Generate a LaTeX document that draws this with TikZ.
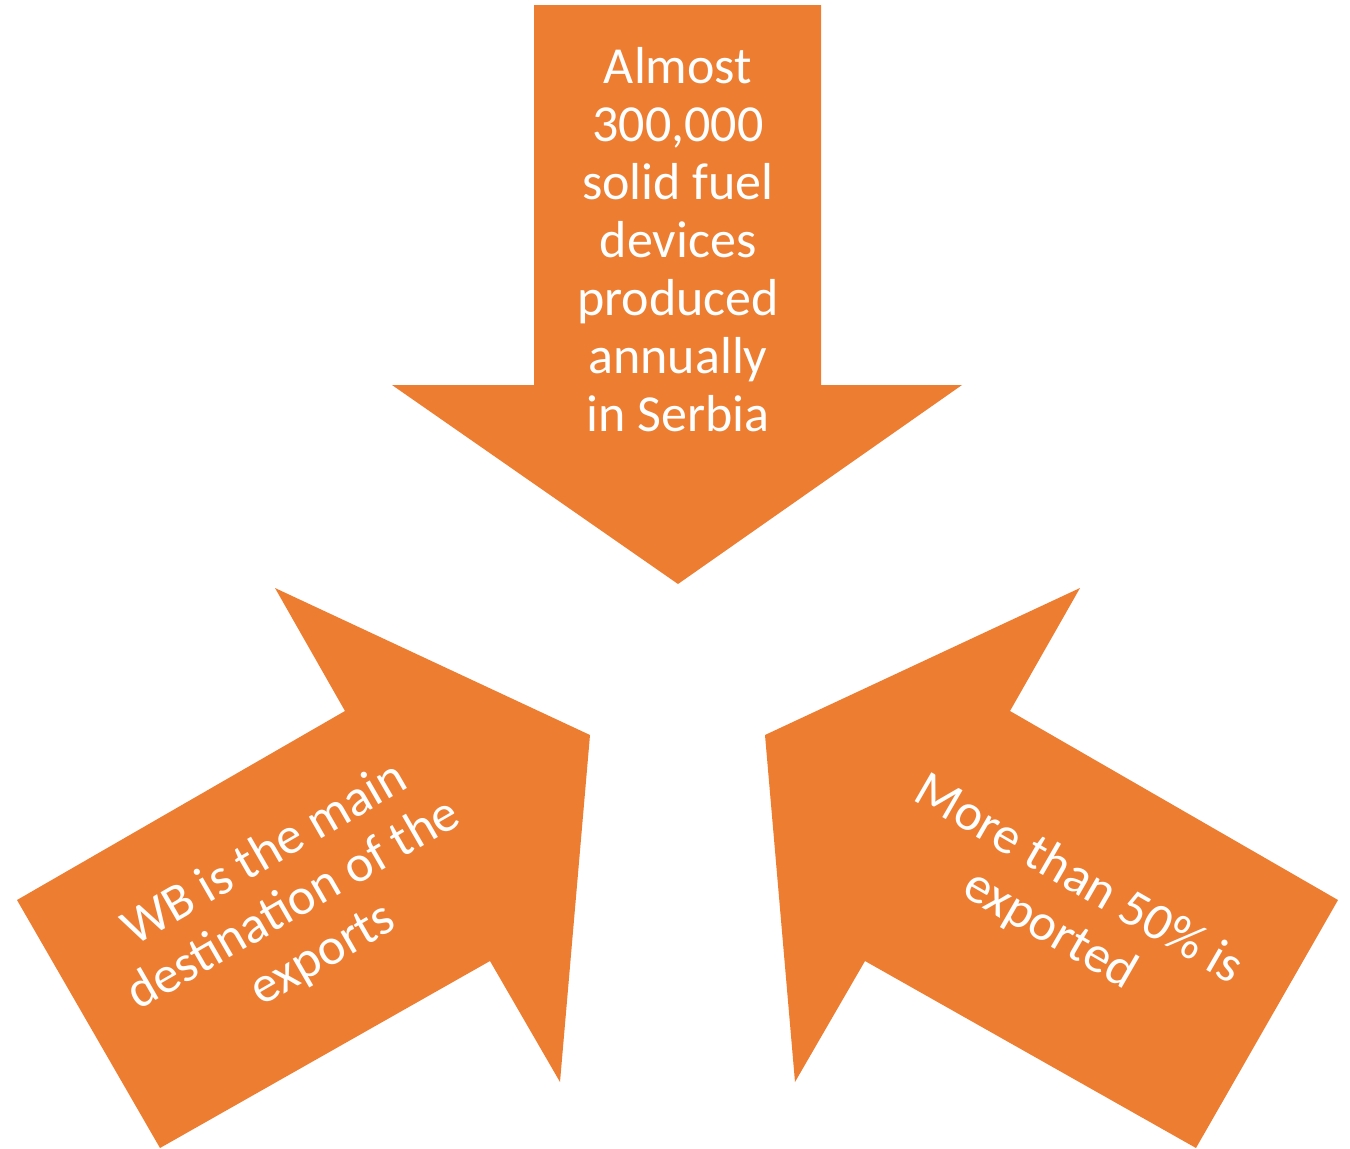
\documentclass[tikz,border=0pt]{standalone}
\usepackage{fontspec}
\setmainfont{Carlito}
\definecolor{arroworange}{HTML}{ED7D31}
\begin{document}
\begin{tikzpicture}[x=1pt,y=-1pt,
  arrowshape/.style={fill=arroworange,draw=none},
  arrowtext/.style={text=white,align=center,font=\fontsize{52}{58}\selectfont}]
\useasboundingbox (0,0) rectangle (1350,1149);
% top arrow
\fill[arrowshape] (534,5) -- (821,5) -- (821,385) -- (962,385) -- (678,584) -- (392,385) -- (534,385) -- cycle;
% left arrow
\fill[arrowshape] (17,900) -- (345,711) -- (275,588) -- (590,735) -- (560,1082) -- (490,961) -- (160,1148) -- cycle;
% right arrow
\fill[arrowshape] (1338,900) -- (1010,711) -- (1080,588) -- (765,735) -- (795,1082) -- (865,961) -- (1196,1148) -- cycle;
\node[arrowtext] (toptext) at (678,240) {Almost\\300,000\\solid fuel\\devices\\produced\\annually\\in Serbia};
\node[arrowtext,rotate=30] (lefttext) at (294,905) {WB is the main\\destination of the\\exports};
\node[arrowtext,rotate=-30] (righttext) at (1064,905) {More than 50\% is\\exported};
\end{tikzpicture}
\end{document}
